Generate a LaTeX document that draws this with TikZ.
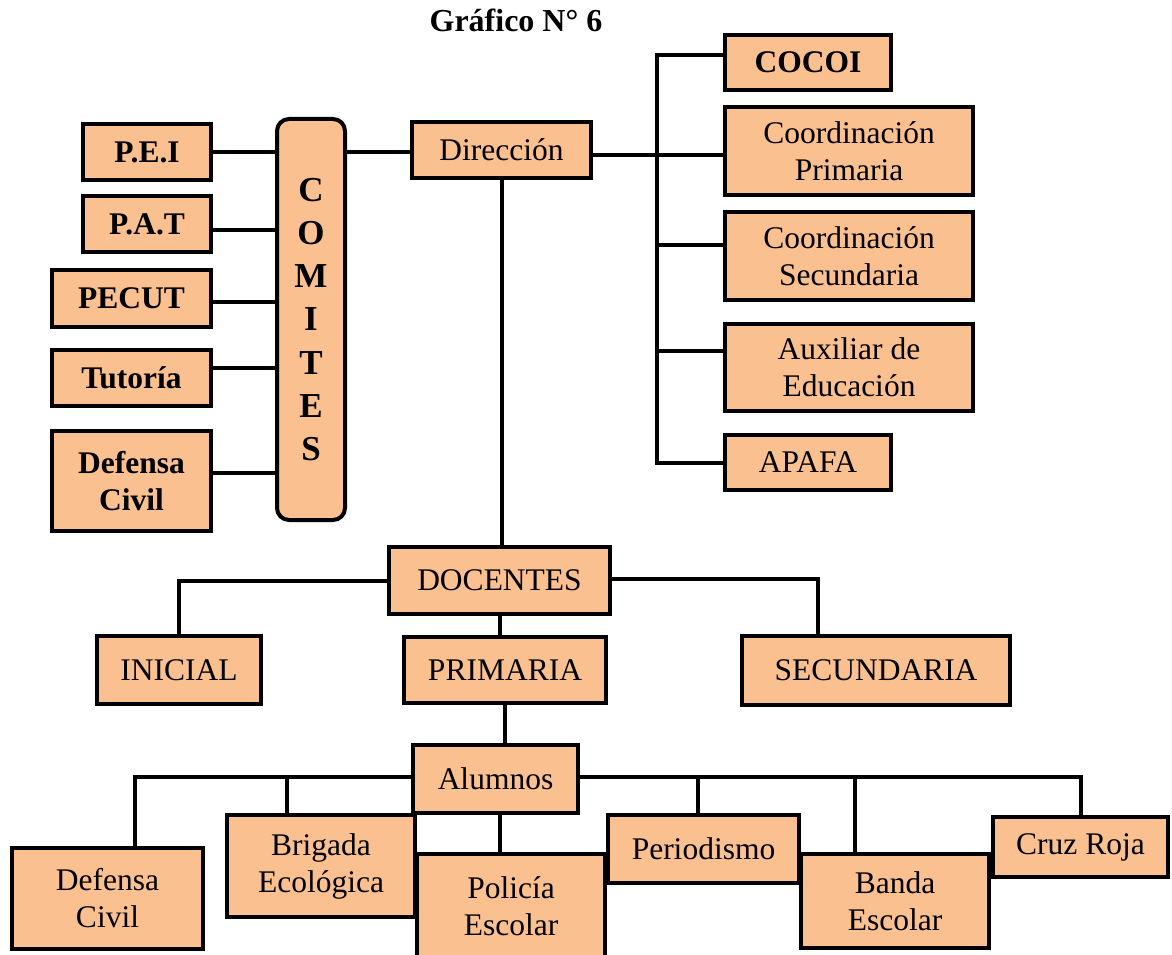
\documentclass[tikz,border=0pt]{standalone}
\usepackage{fontspec}
\setmainfont{Liberation Serif}
\usetikzlibrary{backgrounds,calc}
\definecolor{peach}{HTML}{FAC090}
\newcommand\orgbox[7][]{\node[box,#1,minimum width={#4-#2-4},minimum height={#5-#3-4}] (#6) at ({(#2+#4)/2},{(#3+#5)/2}) {#7};}
\begin{document}
\begin{tikzpicture}[x=1pt,y=-1pt,
  box/.style={draw=black,line width=4pt,fill=peach,inner sep=0pt,align=center,
    font=\fontsize{31.5}{37}\selectfont},
  boldbox/.style={box,font=\fontsize{31.5}{37}\selectfont\bfseries},
  link/.style={draw=black,line width=4pt}]
\useasboundingbox (0,0) rectangle (1172,955);

\node[font=\fontsize{32}{38}\selectfont\bfseries,anchor=base] (title) at (516,32) {Gráfico N° 6};

% left column
\orgbox[boldbox]{81}{122}{213}{182}{pei}{P.E.I}
\orgbox[boldbox]{81}{194}{213}{254}{pat}{P.A.T}
\orgbox[boldbox]{50}{268}{213}{329}{pecut}{PECUT}
\orgbox[boldbox]{50}{348}{213}{408}{tut}{Tutoría}
\orgbox[boldbox]{50}{429}{213}{533}{dcone}{Defensa\\Civil}
\orgbox[box,rounded corners=12pt,font=\fontsize{35}{43.2}\selectfont\bfseries]{275}{117}{347}{522}{comites}{C\\O\\M\\I\\T\\E\\S}

% centre
\orgbox{410}{120}{593}{180}{dir}{Dirección}

% right column
\orgbox[boldbox]{723}{33}{893}{92}{cocoi}{COCOI}
\orgbox{723}{105}{975}{197}{cp}{Coordinación\\Primaria}
\orgbox{723}{210}{975}{302}{cs}{Coordinación\\Secundaria}
\orgbox{723}{322}{975}{413}{aux}{Auxiliar de\\Educación}
\orgbox{723}{433}{893}{492}{apafa}{APAFA}

% docentes
\orgbox{387}{545}{612}{616}{doc}{DOCENTES}
\orgbox{95}{634}{263}{706}{ini}{INICIAL}
\orgbox{402}{635}{608}{705}{prim}{PRIMARIA}
\orgbox{740}{634}{1012}{707}{sec}{SECUNDARIA}

% alumnos
\orgbox{411}{743}{580}{815}{alum}{Alumnos}
\orgbox{10}{846}{205}{951}{dctwo}{Defensa\\Civil}
\orgbox{225}{813}{417}{919}{brig}{Brigada\\Ecológica}
\orgbox{415}{852}{607}{960}{pol}{Policía\\Escolar}
\orgbox{606}{813}{801}{885}{peri}{Periodismo}
\orgbox{799}{852}{991}{950}{banda}{Banda\\Escolar}
\orgbox{991}{815}{1170}{879}{cruz}{Cruz Roja}

\begin{pgfonlayer}{background}
  % comites links
  \draw[link] (pei.east) -- (pei.east -| comites.west);
  \draw[link] ([yshift=-6pt]pat.east) -- ([yshift=-6pt]pat.east -| comites.west);
  \draw[link] ([yshift=-3pt]pecut.east) -- ([yshift=-3pt]pecut.east -| comites.west);
  \draw[link] ([yshift=10pt]tut.east) -- ([yshift=10pt]tut.east -| comites.west);
  \draw[link] ([yshift=8pt]dcone.east) -- ([yshift=8pt]dcone.east -| comites.west);
  \draw[link] ([yshift=-2pt]dir.west) -- ([yshift=-2pt]dir.west -| comites.east);
  % right bus
  \coordinate (bus) at (657,55);
  \coordinate (cocoiL) at ([yshift=7pt]cocoi.west);
  \coordinate (dirR) at ([yshift=-5pt]dir.east);
  \coordinate (csL) at ([yshift=11pt]cs.west);
  \coordinate (auxL) at ([yshift=17pt]aux.west);
  \draw[link] (cocoiL) -- (cocoiL -| bus) -- (bus |- apafa.west) -- (apafa.west);
  \draw[link] (dirR) -- (dirR -| cp.west);
  \draw[link] (csL) -- (csL -| bus);
  \draw[link] (auxL) -- (auxL -| bus);
  % direccion to docentes
  \draw[link] (dir.south) -- (dir.south |- doc.north);
  \draw[link] (doc.west) -| (ini.north);
  \coordinate (secT) at ([xshift=-58pt]sec.north);
  \draw[link] ([yshift=2pt]doc.east) -| (secT);
  \draw[link] (doc.south) -- (doc.south |- prim.north);
  \draw[link] (prim.south) -- (prim.south |- alum.north);
  % alumnos bus
  \coordinate (busL) at ([yshift=2pt]alum.west);
  \coordinate (busR) at ([yshift=2pt]alum.east);
  \coordinate (dcT) at ([xshift=27pt]dctwo.north);
  \coordinate (brT) at ([xshift=-34pt]brig.north);
  \coordinate (peT) at ([xshift=-6pt]peri.north);
  \coordinate (baT) at ([xshift=-40pt]banda.north);
  \coordinate (poS) at ([xshift=4pt]alum.south);
  \draw[link] (busL) -| (dcT);
  \draw[link] (brT) -- (brT |- busL);
  \draw[link] (busR) -| (cruz.north);
  \draw[link] (peT) -- (peT |- busR);
  \draw[link] (baT) -- (baT |- busR);
  \draw[link] (poS) -- (poS |- pol.north);
\end{pgfonlayer}
\end{tikzpicture}
\end{document}
